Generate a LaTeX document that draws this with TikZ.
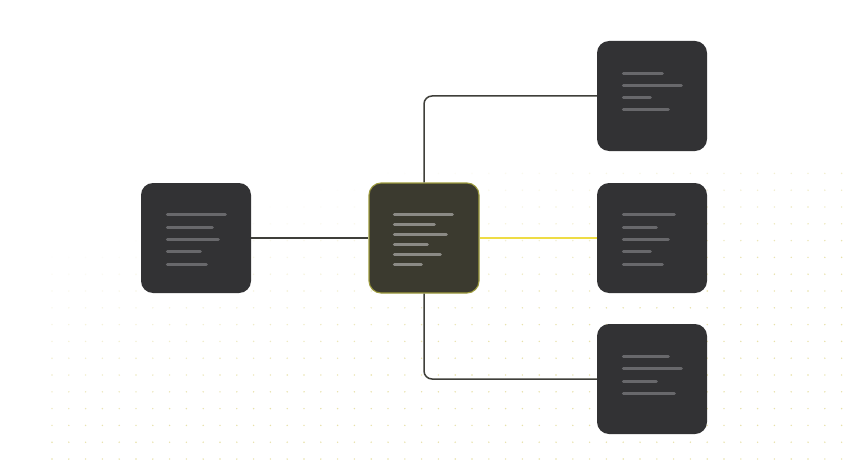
\documentclass[tikz,border=0pt]{standalone}
\usetikzlibrary{positioning,calc}

\definecolor{cardgray}{HTML}{323234}
\definecolor{cardolive}{HTML}{3B3A2F}
\definecolor{rimyellow}{HTML}{9E9C3E}
\definecolor{linkgray}{HTML}{3F3F3A}
\definecolor{linkyellow}{HTML}{EEDC45}
\definecolor{bargray}{HTML}{68686B}
\definecolor{barlight}{HTML}{8B8A85}
\definecolor{dotyellow}{HTML}{E8E1A8}

\begin{document}
\begin{tikzpicture}[
  x=1pt, y=-1pt,
  card/.style={fill=cardgray, rounded corners=12pt, minimum width=110pt,
    minimum height=110pt, inner sep=0pt},
  hub/.style={card, fill=cardolive, draw=rimyellow, line width=1.1pt},
  link/.style={draw=linkgray, line width=1.5pt, rounded corners=8pt},
  hot/.style={draw=linkyellow, line width=1.5pt},
  bar/.style={line width=3pt, line cap=round, draw=bargray},
  dot/.style={fill=dotyellow}
]
\useasboundingbox [fill=white] (0,0) rectangle (848,476);

% faded dot grid
\foreach \i in {0,...,47}
  \foreach \j in {-7,...,10} {
    \pgfmathsetmacro{\px}{52+16.8*\i}
    \pgfmathsetmacro{\py}{291+16.8*\j}
    \pgfmathsetmacro{\op}{max(0,min(1,(\py-160)/200+(\px-420)/800))}
    \fill [dot, opacity=\op] (\px,\py) circle [radius=0.8];
  }

% cards
\node [card] (lft) at (196,238) {};
\node [hub] (hb) at (424,238) {};
\node [card] (rtop) at (652,96) {};
\node [card] (rmid) at (652,238) {};
\node [card] (rbot) at (652,379) {};

% links
\draw [link] (lft.east) -- (hb.west);
\draw [hot] (hb.east) -- (rmid.west);
\draw [link] (hb.north) |- (rtop.west);
\draw [link] (hb.south) |- (rbot.west);

% text bars
\foreach \w [count=\k from 0] in {61,48,54,36,42}
  \draw [bar] ($(lft.north west)+(26.5,32+12.3*\k)$) -- ++(\w-3,0);
\foreach \w [count=\k from 0] in {61,43,55,36,49,30}
  \draw [bar, draw=barlight] ($(hb.north west)+(26,32.5+9.9*\k)$) -- ++(\w-3,0);
\foreach \w [count=\k from 0] in {42,61,30,48}
  \draw [bar] ($(rtop.north west)+(26.5,32.3+12.3*\k)$) -- ++(\w-3,0);
\foreach \w [count=\k from 0] in {54,36,48,30,42}
  \draw [bar] ($(rmid.north west)+(26.5,32+12.3*\k)$) -- ++(\w-3,0);
\foreach \w [count=\k from 0] in {48,61,36,54}
  \draw [bar] ($(rbot.north west)+(26.5,32.7+12.3*\k)$) -- ++(\w-3,0);
\end{tikzpicture}
\end{document}
